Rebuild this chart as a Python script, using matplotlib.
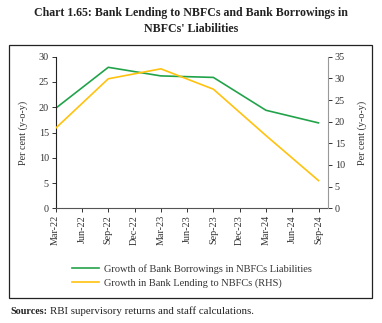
import matplotlib.pyplot as plt
from matplotlib.patches import Rectangle

# Data
quarters = ["Mar-22", "Jun-22", "Sep-22", "Dec-22", "Mar-23", "Jun-23",
            "Sep-23", "Dec-23", "Mar-24", "Jun-24", "Sep-24"]
obs_idx = [0, 2, 4, 6, 8, 10]
borrowings = [19.8, 27.9, 26.2, 25.9, 19.4, 16.9]
lending = [18.5, 29.9, 32.2, 27.5, 16.8, 6.4]

green = "#22a34a"
yellow = "#ffc20e"

plt.rcParams['font.family'] = ['Liberation Serif', 'DejaVu Serif']

fig = plt.figure(figsize=(3.82, 3.23), dpi=100)
W, H = 382, 323

fig.text(0.5, 1 - 13 / H, "Chart 1.65: Bank Lending to NBFCs and Bank Borrowings in",
         ha='center', va='center', fontsize=8.6, fontweight='bold', color='#222222')
fig.text(0.5, 1 - 29 / H, "NBFCs' Liabilities",
         ha='center', va='center', fontsize=8.6, fontweight='bold', color='#222222')

# outer frame
fig.patches.append(Rectangle((9 / W, 1 - 298 / H), (372 - 9) / W, (298 - 45) / H,
                             transform=fig.transFigure, fill=False, lw=0.9,
                             edgecolor='#222222'))

ax = fig.add_axes([55.7 / W, 1 - 208.3 / H, (327.7 - 55.7) / W, (208.3 - 56.7) / H])
ax2 = ax.twinx()

ln1, = ax.plot(obs_idx, borrowings, color=green, lw=1.2)
ln2, = ax2.plot(obs_idx, lending, color=yellow, lw=1.2)

ax.set_xlim(0, 10.35)
ax.set_ylim(0, 30)
ax2.set_ylim(0, 35)
ax.set_yticks(range(0, 31, 5))
ax2.set_yticks(range(0, 36, 5))
ax.set_xticks(range(len(quarters)))
ax.set_xticklabels(quarters, rotation=90)

for a in (ax, ax2):
    a.spines['top'].set_visible(False)
    a.tick_params(labelsize=7.3, colors='#333333', length=3, width=0.7, pad=2)
ax.spines['right'].set_visible(False)
ax2.spines['left'].set_visible(False)
ax2.spines['bottom'].set_visible(False)
ax.spines['left'].set_color('#222222')
ax.spines['bottom'].set_color('#555555')
ax2.spines['right'].set_color('#999999')

ax.set_ylabel("Per cent (y-o-y)", fontsize=7.3, color='#333333', labelpad=8)
ax2.set_ylabel("Per cent (y-o-y)", fontsize=7.3, color='#333333', labelpad=9)

fig.legend([ln1, ln2],
           ["Growth of Bank Borrowings in NBFCs Liabilities",
            "Growth in Bank Lending to NBFCs (RHS)"],
           loc='center left', bbox_to_anchor=(72 / W, 1 - 276 / H),
           frameon=False, fontsize=7.5, handlelength=2.6, labelspacing=0.45,
           handletextpad=0.5, borderaxespad=0, borderpad=0, labelcolor='#333333')

fig.text(10 / W, 1 - 311 / H, "Sources:", ha='left', va='center',
         fontsize=7.3, fontweight='bold', color='#222222')
fig.text(50 / W, 1 - 311 / H, "RBI supervisory returns and staff calculations.",
         ha='left', va='center', fontsize=7.8, color='#222222')

fig.savefig("out.png", dpi=100)
